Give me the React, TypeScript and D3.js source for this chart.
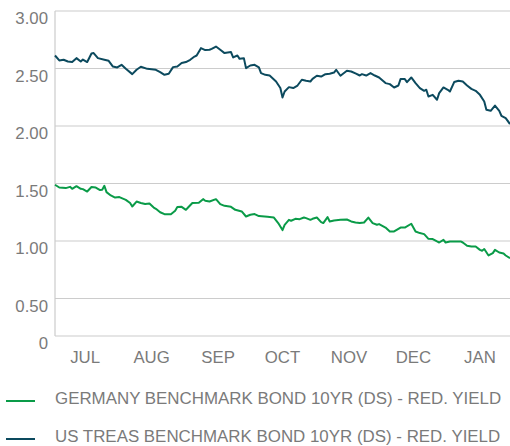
import React from 'react';
import * as d3 from 'd3';

// day offset from START, yield in %
const usTreas: [number, number][] = [
  [0, 2.613], [2, 2.57], [4, 2.576], [6, 2.561], [8, 2.556], [10, 2.59], [12, 2.561],
  [13, 2.578], [15, 2.556], [17, 2.63], [18, 2.634], [20, 2.59], [23, 2.576], [25, 2.567],
  [27, 2.517], [29, 2.509], [31, 2.532], [33, 2.497], [36, 2.451], [38, 2.489], [40, 2.515],
  [43, 2.497], [47, 2.489], [49, 2.469], [51, 2.445], [53, 2.454], [55, 2.512], [57, 2.517],
  [59, 2.547], [61, 2.556], [63, 2.576], [65, 2.604], [66, 2.613], [68, 2.677], [70, 2.66],
  [72, 2.663], [73, 2.671], [75, 2.691], [77, 2.663], [79, 2.634], [82, 2.643], [83, 2.596],
  [85, 2.613], [86, 2.584], [88, 2.59], [89, 2.503], [91, 2.526], [93, 2.532], [95, 2.509],
  [96, 2.46], [98, 2.445], [100, 2.439], [103, 2.387], [105, 2.33], [106, 2.248], [107, 2.3],
  [109, 2.338], [111, 2.33], [113, 2.352], [115, 2.402], [117, 2.393], [119, 2.387],
  [120, 2.41], [122, 2.437], [124, 2.43], [126, 2.451], [128, 2.454], [130, 2.465],
  [131, 2.489], [133, 2.437], [136, 2.48], [138, 2.474], [140, 2.457], [142, 2.439],
  [143, 2.451], [145, 2.439], [147, 2.46], [149, 2.439], [151, 2.422], [154, 2.373],
  [156, 2.364], [158, 2.335], [160, 2.352], [161, 2.408], [163, 2.408], [164, 2.382],
  [166, 2.422], [168, 2.373], [170, 2.33], [172, 2.306], [173, 2.315], [174, 2.257],
  [176, 2.271], [178, 2.228], [179, 2.286], [181, 2.335], [183, 2.315], [184, 2.3],
  [186, 2.382], [188, 2.393], [190, 2.387], [192, 2.352], [194, 2.323], [196, 2.306],
  [198, 2.271], [200, 2.213], [201, 2.141], [203, 2.132], [205, 2.178], [207, 2.132],
  [208, 2.089], [210, 2.069], [212, 2.017],
];

const germany: [number, number][] = [
  [0, 1.489], [2, 1.465], [5, 1.46], [7, 1.471], [8, 1.454], [10, 1.477], [12, 1.454],
  [13, 1.451], [15, 1.43], [17, 1.469], [19, 1.465], [21, 1.443], [22, 1.445], [23, 1.48],
  [24, 1.425], [26, 1.396], [28, 1.378], [30, 1.382], [33, 1.358], [35, 1.33], [36, 1.3],
  [38, 1.343], [40, 1.33], [42, 1.321], [44, 1.326], [46, 1.291], [47, 1.28], [49, 1.25],
  [51, 1.233], [54, 1.233], [56, 1.263], [57, 1.295], [59, 1.297], [61, 1.271], [62, 1.291],
  [64, 1.33], [67, 1.332], [69, 1.364], [70, 1.35], [72, 1.343], [75, 1.364], [77, 1.321],
  [79, 1.306], [82, 1.297], [84, 1.271], [87, 1.257], [89, 1.213], [91, 1.228], [93, 1.234],
  [95, 1.217], [99, 1.21], [102, 1.204], [104, 1.156], [106, 1.095], [107, 1.141],
  [109, 1.184], [110, 1.176], [112, 1.193], [114, 1.19], [116, 1.204], [117, 1.199],
  [119, 1.184], [120, 1.193], [122, 1.204], [124, 1.164], [125, 1.156], [127, 1.208],
  [128, 1.17], [130, 1.178], [133, 1.184], [136, 1.187], [138, 1.17], [140, 1.161],
  [142, 1.156], [144, 1.161], [146, 1.204], [148, 1.156], [150, 1.141], [151, 1.147],
  [154, 1.117], [156, 1.083], [158, 1.083], [161, 1.117], [163, 1.117], [166, 1.15],
  [168, 1.083], [170, 1.069], [172, 1.06], [174, 1.019], [176, 1.017], [178, 0.996],
  [179, 0.987], [181, 1.01], [182, 0.987], [184, 0.996], [189, 0.996], [190, 0.987],
  [192, 0.958], [194, 0.952], [196, 0.952], [198, 0.923], [199, 0.915], [200, 0.93],
  [202, 0.874], [204, 0.895], [205, 0.923], [207, 0.9], [209, 0.891], [210, 0.874],
  [212, 0.851],
];

const months = ['JUL', 'AUG', 'SEP', 'OCT', 'NOV', 'DEC', 'JAN'];
const yTicks = [3, 2.5, 2, 1.5, 1, 0.5, 0];

const legend = [
  { name: 'GERMANY BENCHMARK BOND 10YR (DS) - RED. YIELD', color: '#0a9b48', data: germany },
  { name: 'US TREAS BENCHMARK BOND 10YR (DS) - RED. YIELD', color: '#0c4a5e', data: usTreas },
];

const START = new Date(2018, 6, 2);
const END = new Date(2019, 0, 30);

export default function App() {
  const width = 510;
  const height = 446;
  const left = 55;
  const right = 510;

  const x = d3.scaleTime().domain([START, END]).range([left, right]);
  // axis is broken below 0.50 -- bottom line is labelled 0
  const y = d3.scaleLinear().domain([0, 0.5, 3]).range([336, 298.5, 11]);

  const line = d3
    .line<[number, number]>()
    .x((d) => x(d3.timeDay.offset(START, d[0])))
    .y((d) => y(d[1]));

  const font = 'Liberation Sans, Arial, sans-serif';
  const grey = '#7a7a7a';

  return (
    <svg
      width={width}
      height={height}
      style={{ position: 'absolute', left: 0, top: 0, background: '#fff' }}
      fontFamily={font}
    >
      {yTicks.map((t) => (
        <g key={t}>
          <line x1={left} x2={right} y1={y(t)} y2={y(t)} stroke="#cccccc" strokeWidth={1.2} />
          <text x={48} y={y(t) + 13} textAnchor="end" fontSize={16.8} fill={grey}>
            {t === 0 ? '0' : t.toFixed(2)}
          </text>
        </g>
      ))}
      <line x1={left} x2={left} y1={y(3)} y2={y(0)} stroke="#cccccc" strokeWidth={1.2} />

      {months.map((m, i) => (
        <text
          key={m}
          x={x(new Date(2018, 6 + i, 16))}
          y={363}
          textAnchor="middle"
          fontSize={16.8}
          fill={grey}
        >
          {m}
        </text>
      ))}

      {legend.map((s) => (
        <path key={s.name} d={line(s.data) || ''} fill="none" stroke={s.color} strokeWidth={2} strokeLinejoin="round" />
      ))}

      {legend.map((s, i) => (
        <g key={'lg' + i} transform={'translate(0,' + (401 + i * 38) + ')'}>
          <line x1={6} x2={35} y1={0} y2={0} stroke={s.color} strokeWidth={2} />
          <text x={55} y={3} fontSize={16.9} fill={grey}>
            {s.name}
          </text>
        </g>
      ))}
    </svg>
  );
}
